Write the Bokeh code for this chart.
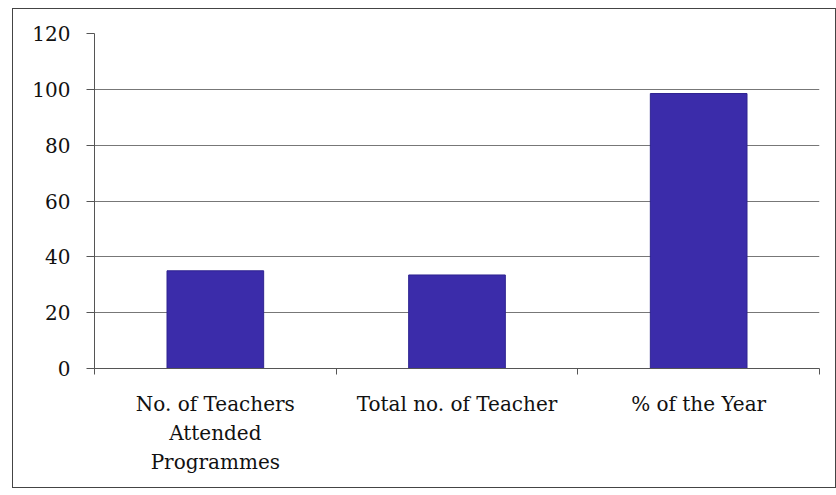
import numpy as np
from bokeh.plotting import figure
from bokeh.models import FixedTicker, Range1d
from bokeh.embed import file_html
from bokeh.resources import INLINE

categories = ["No. of Teachers\nAttended\nProgrammes", "Total no. of Teacher", "% of the Year"]
values = [35, 33.5, 98.5]
y_ticks = [0, 20, 40, 60, 80, 100, 120]

n = len(categories)
xs = np.arange(n) + 0.5

p = figure(width=824, height=480, output_backend="svg", toolbar_location=None,
           x_range=Range1d(0, n), y_range=Range1d(0, 120),
           min_border_left=81, min_border_right=18, min_border_top=24, min_border_bottom=121)
p.styles = {"border": "1.5px solid #444", "margin-left": "12px", "margin-top": "8px"}
p.outline_line_color = None
p.background_fill_color = "white"

p.vbar(x=xs, top=values, width=0.4, fill_color="#3b2caa", line_color="#2e2390")

font = "DejaVu Serif"
p.yaxis.ticker = FixedTicker(ticks=y_ticks)
p.yaxis.axis_line_color = "#555"
p.yaxis.major_tick_line_color = "#555"
p.yaxis.major_tick_out = 8
p.yaxis.major_tick_in = 0
p.yaxis.minor_tick_line_color = None
p.yaxis.major_label_text_font = font
p.yaxis.major_label_text_font_size = "20px"
p.yaxis.major_label_text_color = "#111"
p.yaxis.major_label_standoff = 16

p.xaxis.ticker = FixedTicker(ticks=list(xs), minor_ticks=list(range(n + 1)))
p.xaxis.major_label_overrides = {float(x): c for x, c in zip(xs, categories)}
p.xaxis.axis_line_color = "#555"
p.xaxis.major_tick_line_color = None
p.xaxis.minor_tick_line_color = "#555"
p.xaxis.minor_tick_out = 6
p.xaxis.minor_tick_in = 0
p.xaxis.major_label_text_font = font
p.xaxis.major_label_text_font_size = "20px"
p.xaxis.major_label_text_color = "#111"
p.xaxis.major_label_standoff = 17
p.xaxis.major_label_text_line_height = 1.22

p.xgrid.grid_line_color = None
p.ygrid.ticker = FixedTicker(ticks=y_ticks)
p.ygrid.grid_line_color = "#777"
p.ygrid.grid_line_width = 1

open("out.html", "w").write(file_html(p, INLINE))
